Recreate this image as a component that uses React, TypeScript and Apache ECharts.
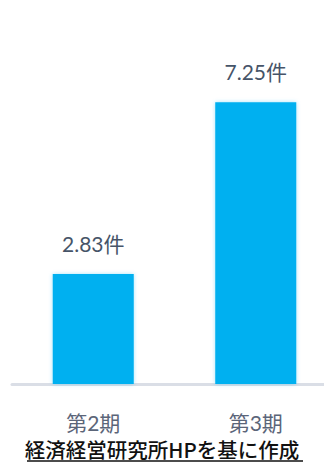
import React, { useEffect, useRef } from "react";
import * as echarts from "echarts";

const categories = ["第2期", "第3期"];
const values = [2.83, 7.25];
const unit = "件";
const sourceNote = "経済経営研究所HPを基に作成";

export default function App() {
  const ref = useRef<HTMLDivElement>(null);
  useEffect(() => {
    if (!ref.current) return;
    const chart = echarts.init(ref.current, null, { renderer: "svg" });
    const font = "Lato, 'Noto Sans CJK JP', sans-serif";
    chart.setOption({
      animation: false,
      grid: {
        left: 12,
        width: 325,
        top: 73,
        height: 311,
        containLabel: false,
        outerBoundsMode: "none",
      },
      xAxis: {
        type: "category",
        data: categories,
        axisLine: { show: true, lineStyle: { color: "#dadee6", width: 3 } },
        axisTick: { show: false },
        axisLabel: {
          color: "#5b6579",
          fontSize: 21,
          margin: 28,
          fontFamily: font,
        },
      },
      yAxis: {
        type: "value",
        min: 0,
        max: 8,
        show: false,
        splitLine: { show: false },
      },
      series: [
        {
          type: "bar",
          data: values,
          barWidth: 81,
          itemStyle: {
            color: "#00b0f0",
            shadowColor: "rgba(0,176,240,0.35)",
            shadowBlur: 4,
          },
          label: {
            show: true,
            position: "top",
            distance: 20,
            color: "#465468",
            fontSize: 21,
            fontFamily: font,
            formatter: (p: any) => p.value.toFixed(2) + unit,
          },
        },
      ],
      graphic: [
        {
          type: "text",
          left: "center",
          top: 439,
          style: {
            text: sourceNote,
            fill: "#111111",
            font: "500 20.5px 'Noto Sans CJK JP', sans-serif",
            lineHeight: 20,
          },
        },
        {
          type: "line",
          shape: { x1: 27, y1: 461, x2: 303, y2: 461 },
          style: { stroke: "#111111", lineWidth: 1.5 },
        },
      ],
    });
    return () => chart.dispose();
  }, []);
  return (
    <div
      ref={ref}
      style={{ position: "absolute", left: 0, top: 0, width: 324, height: 464 }}
    />
  );
}
